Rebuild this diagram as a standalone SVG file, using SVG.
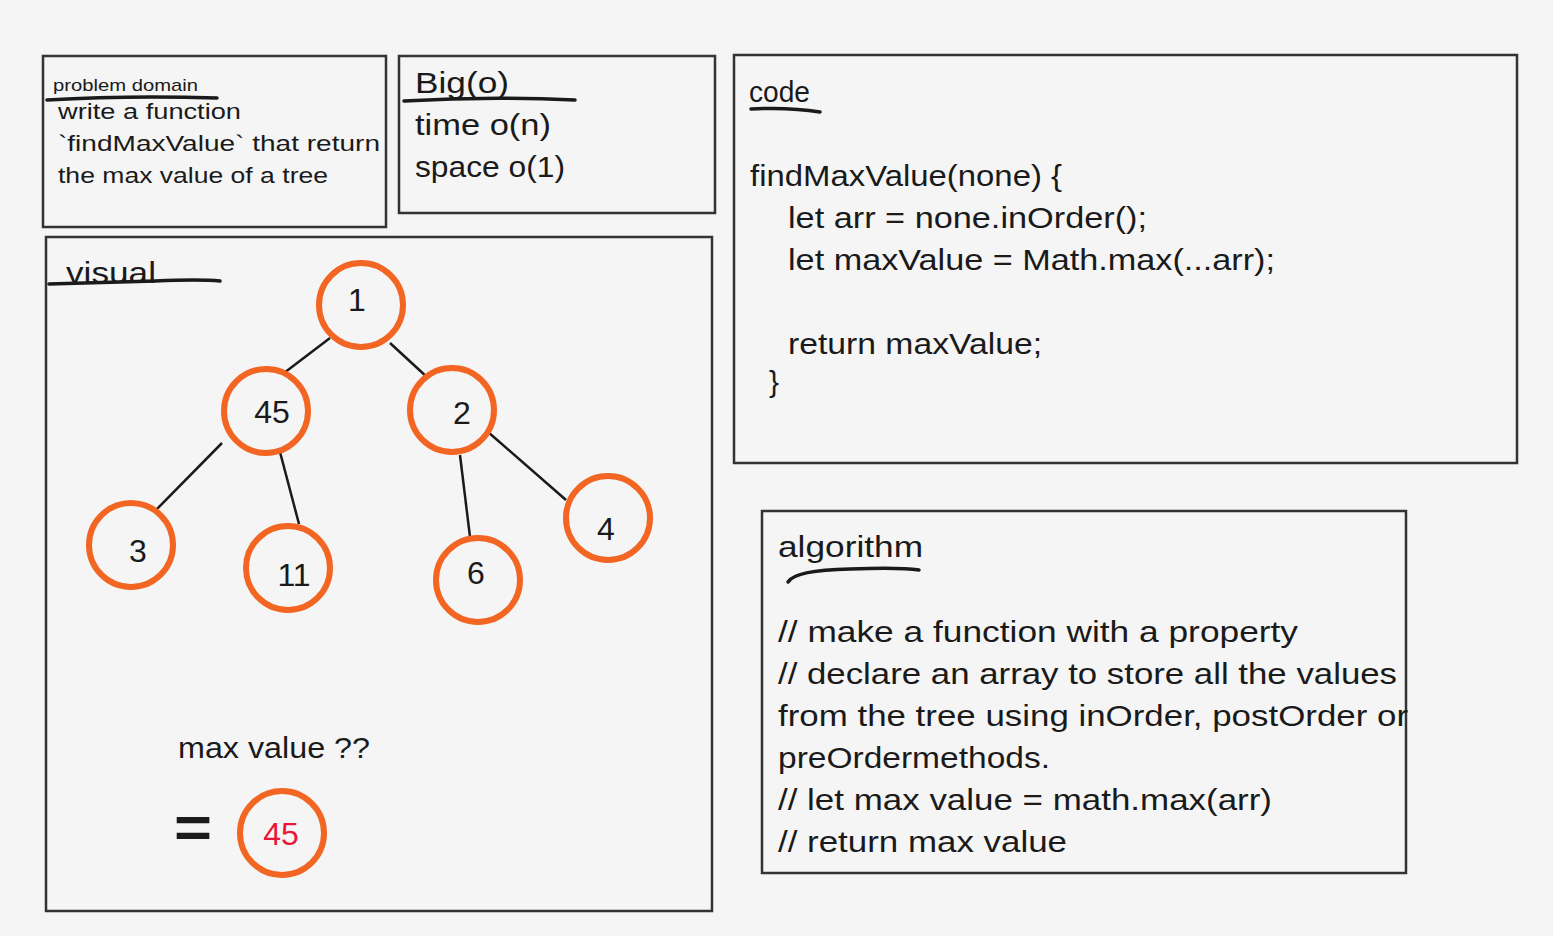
<svg xmlns="http://www.w3.org/2000/svg" width="1553" height="936" viewBox="0 0 1553 936">
<style>
.box{fill:#f5f5f5;stroke:#333;stroke-width:2.5}
.t{font-family:"Liberation Sans",Arial,sans-serif;fill:#1a1a1a}
.ul{fill:none;stroke:#1a1a1a;stroke-width:3.5;stroke-linecap:round}
.node{fill:#f5f5f5;stroke:#f26522;stroke-width:6}
.edge{stroke:#1a1a1a;stroke-width:2.5}
.lbl{font-family:"Liberation Sans",Arial,sans-serif;font-size:32px;fill:#1a1a1a;text-anchor:middle}
</style>
<rect width="1553" height="936" fill="#f5f5f5"/>

<g id="problem-domain">
<rect class="box" x="43" y="56" width="343" height="171"/>
<text class="t" x="53" y="91" font-size="17" textLength="145" lengthAdjust="spacingAndGlyphs">problem domain</text>
<path class="ul" d="M47 100 Q130 95 217 98"/>
<text class="t" x="58" y="119" font-size="22" textLength="183" lengthAdjust="spacingAndGlyphs">write a function</text>
<text class="t" x="58" y="151" font-size="22" textLength="322" lengthAdjust="spacingAndGlyphs">`findMaxValue` that return</text>
<text class="t" x="58" y="183" font-size="22" textLength="270" lengthAdjust="spacingAndGlyphs">the max value of a tree</text>
</g>

<g id="big-o">
<rect class="box" x="399" y="56" width="316" height="157"/>
<text class="t" x="415" y="93" font-size="30" textLength="94" lengthAdjust="spacingAndGlyphs">Big(o)</text>
<path class="ul" d="M404 101 Q490 96 575 100"/>
<text class="t" x="415" y="135" font-size="29" textLength="136" lengthAdjust="spacingAndGlyphs">time o(n)</text>
<text class="t" x="415" y="177" font-size="29" textLength="150" lengthAdjust="spacingAndGlyphs">space o(1)</text>
</g>

<g id="code">
<rect class="box" x="734" y="55" width="783" height="408"/>
<text class="t" x="749" y="102" font-size="29" textLength="61" lengthAdjust="spacingAndGlyphs">code</text>
<path class="ul" d="M751 109 Q790 107 820 112"/>
<text class="t" x="750" y="186" font-size="30" textLength="312" lengthAdjust="spacingAndGlyphs">findMaxValue(none) {</text>
<text class="t" x="788" y="228" font-size="30" textLength="359" lengthAdjust="spacingAndGlyphs">let arr = none.inOrder();</text>
<text class="t" x="788" y="270" font-size="30" textLength="487" lengthAdjust="spacingAndGlyphs">let maxValue = Math.max(...arr);</text>
<text class="t" x="788" y="354" font-size="30" textLength="254" lengthAdjust="spacingAndGlyphs">return maxValue;</text>
<text class="t" x="769" y="392" font-size="30">}</text>
</g>

<g id="visual">
<rect class="box" x="46" y="237" width="666" height="674"/>
<text class="t" x="66" y="283" font-size="30" textLength="90" lengthAdjust="spacingAndGlyphs">visual</text>
<path class="ul" d="M49 284 Q120 282 155 281 Q200 279 220 281"/>
<text class="t" x="178" y="758" font-size="29" textLength="192" lengthAdjust="spacingAndGlyphs">max value ??</text>
<text class="t" x="174" y="847" font-size="58" font-weight="bold" textLength="38" lengthAdjust="spacingAndGlyphs">=</text>
</g>

<g id="connectors">
<line class="edge" x1="330" y1="338" x2="284" y2="373"/>
<line class="edge" x1="390" y1="343" x2="428" y2="378"/>
<line class="edge" x1="222" y1="443" x2="155" y2="511"/>
<line class="edge" x1="280" y1="452" x2="299" y2="524"/>
<line class="edge" x1="460" y1="455" x2="470" y2="537"/>
<line class="edge" x1="488" y1="432" x2="566" y2="500"/>
</g>

<g id="node-1"><ellipse class="node" cx="361" cy="305" rx="42" ry="42"/><text class="lbl" x="357" y="311">1</text></g>
<g id="node-45"><ellipse class="node" cx="266" cy="411" rx="42" ry="42"/><text class="lbl" x="272" y="423">45</text></g>
<g id="node-2"><ellipse class="node" cx="452" cy="410" rx="42" ry="42"/><text class="lbl" x="462" y="424">2</text></g>
<g id="node-3"><ellipse class="node" cx="131" cy="545" rx="42" ry="42"/><text class="lbl" x="138" y="562">3</text></g>
<g id="node-11"><ellipse class="node" cx="288" cy="568" rx="42" ry="42"/><text class="lbl" x="294" y="586">11</text></g>
<g id="node-6"><ellipse class="node" cx="478" cy="580" rx="42" ry="42"/><text class="lbl" x="476" y="584">6</text></g>
<g id="node-4"><ellipse class="node" cx="608" cy="518" rx="42" ry="42"/><text class="lbl" x="606" y="540">4</text></g>
<g id="node-result"><ellipse class="node" cx="282" cy="833" rx="42" ry="42"/><text class="lbl" x="281" y="845" style="fill:#e8173a">45</text></g>

<g id="algorithm">
<rect class="box" x="762" y="511" width="644" height="362"/>
<text class="t" x="778" y="557" font-size="30" textLength="145" lengthAdjust="spacingAndGlyphs">algorithm</text>
<path class="ul" d="M788 582 Q795 570 850 569 Q900 567 919 570"/>
<text class="t" x="778" y="642" font-size="30" textLength="520" lengthAdjust="spacingAndGlyphs">// make a function with a property</text>
<text class="t" x="778" y="684" font-size="30" textLength="619" lengthAdjust="spacingAndGlyphs">// declare an array to store all the values</text>
<text class="t" x="778" y="726" font-size="30" textLength="630" lengthAdjust="spacingAndGlyphs">from the tree using inOrder, postOrder or</text>
<text class="t" x="778" y="768" font-size="30" textLength="272" lengthAdjust="spacingAndGlyphs">preOrdermethods.</text>
<text class="t" x="778" y="810" font-size="30" textLength="494" lengthAdjust="spacingAndGlyphs">// let max value = math.max(arr)</text>
<text class="t" x="778" y="852" font-size="30" textLength="289" lengthAdjust="spacingAndGlyphs">// return max value</text>
</g>
</svg>
